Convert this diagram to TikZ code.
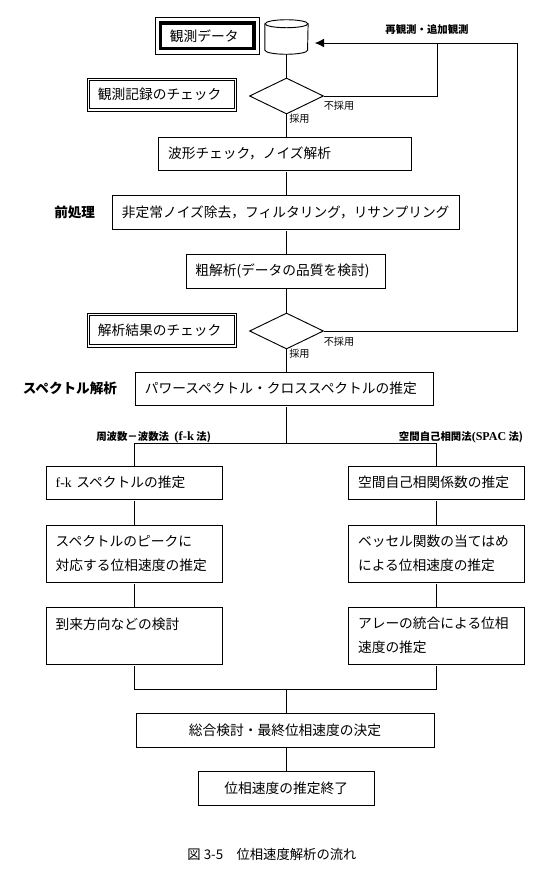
\documentclass[tikz,border=0pt]{standalone}
\usepackage{fontspec}
\setmainfont{Noto Sans CJK JP}
\newfontfamily\latinf{Liberation Serif}
\usetikzlibrary{shapes.geometric,arrows.meta,calc}
\newcommand{\flowbox}[7][]{%
  \node[boxs,#1,minimum width={(#4-#2)*0.75pt},minimum height={(#5-#3)*0.75pt},
        text width={(#4-#2)*0.75pt-14pt}]
    (#6) at ({(#2+#4)/2},{(#3+#5)/2}) {#7};}
\tikzset{
  x=0.75pt,y=-0.75pt,
  every node/.style={inner ysep=0pt},
  boxs/.style={draw=black,line width=0.7pt,rectangle,inner xsep=7pt,align=left,font=\fontsize{10.3}{18}\selectfont},
  dbl/.style={double=white,double distance=1.2pt,line width=0.55pt},
  diam/.style={draw=black,line width=0.7pt,diamond,aspect=2,inner sep=0pt,minimum width=55.5pt,minimum height=27pt},
  conn/.style={draw=black,line width=0.7pt},
  gapstart/.style={shorten <=1.2pt},
  small/.style={inner sep=0pt,font=\fontsize{7.6}{9}\selectfont},
  head/.style={inner sep=0pt,font=\fontsize{10.2}{12}\bfseries\selectfont},
  subhead/.style={inner sep=0pt,font=\fontsize{7.8}{9}\bfseries\selectfont},
}
\begin{document}
\begin{tikzpicture}
\useasboundingbox (0,0) rectangle (543,882);
% top row
\flowbox[line width=2.4pt]{160.5}{23}{254}{48.5}{data}{観測データ}
\draw[line width=0.6pt] ($(data.north west)+(-2.9pt,2.9pt)$) rectangle ($(data.south east)+(2.9pt,-2.9pt)$);
\node[inner sep=0pt,minimum width=32pt,minimum height=25.5pt] (cyl) at (286.5,37) {};
\draw[line width=0.7pt,fill=white] ($(cyl.north)+(0,-3pt)$) ellipse [x radius=16pt,y radius=3pt];
\draw[line width=0.7pt] ($(cyl.north west)+(0,-3pt)$) -- ($(cyl.south west)+(0,3pt)$)
   arc [start angle=180,end angle=360,x radius=16pt,y radius=3pt] -- ($(cyl.north east)+(0,-3pt)$);
\node[diam] (d1) at (286.5,96) {};
\flowbox[dbl]{88.5}{79.5}{235.5}{110}{chk1}{観測記録のチェック}
\node[small,anchor=west] (rej1) at (323.5,105.5) {不採用};
\node[small,anchor=west] (acc1) at (289,118.5) {採用};
\flowbox{158.7}{137}{411.8}{170}{wave}{波形チェック，ノイズ解析}
\flowbox{112.6}{195}{459}{229}{pre}{非定常ノイズ除去，フィルタリング，リサンプリング}
\node[head,anchor=west] (prel) at (54,212) {前処理};
\flowbox{186}{254}{385}{288}{rough}{粗解析(データの品質を検討)}
\node[diam] (d2) at (286.5,331) {};
\flowbox[dbl]{88.5}{314.5}{235.5}{346}{chk2}{解析結果のチェック}
\node[small,anchor=west] (rej2) at (323.5,341.5) {不採用};
\node[small,anchor=west] (acc2) at (289,354) {採用};
\flowbox{135.5}{372}{433}{405}{power}{パワースペクトル・クロススペクトルの推定}
\node[head,anchor=west] (specl) at (22.5,388.5) {スペクトル解析};
\node[subhead,anchor=west] (fkl) at (96,437) {周波数－波数法\hspace{4pt}{\latinf\fontsize{9.5}{9}\selectfont (f-k} 法)};
\node[subhead,anchor=east] (spl) at (523.4,437) {空間自己相関法{\latinf\fontsize{9}{9}\selectfont (SPAC} 法)};
\node[subhead,anchor=center] (rel) at (427,30) {再観測・追加観測};
% left column
\flowbox{46.4}{466}{222.5}{499}{fa}{{\latinf f-k} スペクトルの推定}
\flowbox{46.4}{525}{222.5}{582}{fb}{スペクトルのピークに\\対応する位相速度の推定}
\flowbox{46.4}{607}{222.5}{664}{fc}{到来方向などの検討\\\mbox{}}
% right column
\flowbox{348.7}{466}{524.8}{499}{sa}{空間自己相関係数の推定}
\flowbox{348.7}{525}{524.8}{582}{sb}{ベッセル関数の当てはめ\\による位相速度の推定}
\flowbox{348.7}{607}{524.8}{664}{sc}{アレーの統合による位相\\速度の推定}
% bottom
\flowbox[align=center]{136}{713}{434}{747}{total}{総合検討・最終位相速度の決定}
\flowbox[align=center]{198}{771}{374.5}{805}{final}{位相速度の推定終了}
\node[inner sep=0pt,font=\fontsize{10}{12}\selectfont] (cap) at (272,854) {図 3-5　位相速度解析の流れ};
% junctions
\coordinate (split) at (d1.south |- 0,443);
\coordinate (merge) at (d1.south |- total.north);
\coordinate (jm) at (286.5,689);
\coordinate (tip) at (314.7,43);
\coordinate (j1) at (437,43);
\coordinate (j2) at (517,43);
\coordinate (cl) at (fa.north |- 0,443);
\coordinate (cr) at (sa.north |- 0,443);
\coordinate (ml) at (fc.south |- 0,689);
\coordinate (mr) at (sc.south |- 0,689);
% connectors
\draw[conn] (cyl.south) -- (d1.north);
\draw[conn] (d1.south) -- (d1.south |- wave.north);
\draw[conn,gapstart] (d1.south |- wave.south) -- (d1.south |- pre.north);
\draw[conn,gapstart] (d1.south |- pre.south) -- (d1.south |- rough.north);
\draw[conn] (d1.south |- rough.south) -- (d2.north);
\draw[conn] (d2.south) -- (d2.south |- power.north);
\draw[conn,gapstart] (d2.south |- power.south) -- (split);
\draw[conn] (cl) -- (cr);
\draw[conn] (cl) -- (fa.north);
\draw[conn] (cr) -- (sa.north);
\draw[conn,gapstart] (fa.south) -- (fb.north);
\draw[conn,gapstart] (fb.south) -- (fc.north);
\draw[conn,gapstart] (sa.south) -- (sb.north);
\draw[conn,gapstart] (sb.south) -- (sc.north);
\draw[conn,gapstart] (fc.south) -- (ml);
\draw[conn,gapstart] (sc.south) -- (mr);
\draw[conn] (ml) -- (mr);
\draw[conn] (jm) -- (merge);
\draw[conn] (d1.south |- total.south) -- (d1.south |- final.north);
% feedback
\draw[conn,-{Latex[length=7pt,width=6.5pt]}] (d2.east) -| (j2) -- (tip);
\draw[conn] (d1.east) -| (j1);
\end{tikzpicture}
\end{document}
